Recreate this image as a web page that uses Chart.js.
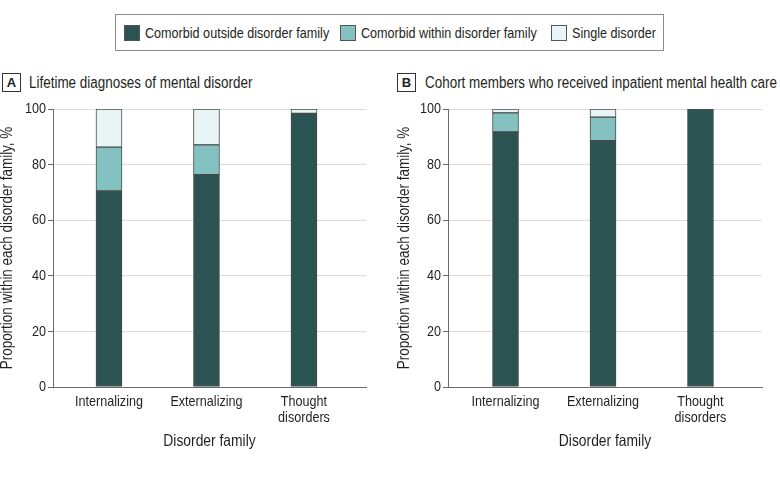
<!DOCTYPE html>
<html><head><meta charset="utf-8">
<script src="https://cdn.jsdelivr.net/npm/chart.js@4.4.1/dist/chart.umd.min.js"></script>
<style>
html,body{margin:0;padding:0;background:#fff;}
body{width:780px;height:501px;position:relative;overflow:hidden;font-family:"Liberation Sans",Arial,sans-serif;color:#231f20;}
#legend{position:absolute;left:115px;top:14px;width:547px;height:35px;border:1px solid #8c8c8c;}
.item{position:absolute;top:0;height:35px;display:flex;align-items:center;font-size:15px;white-space:nowrap;}
.sw{width:16px;height:16px;border:1px solid #555;box-sizing:border-box;margin-right:5px;flex:none;}
.nar{display:inline-block;transform:scaleX(0.84);transform-origin:0 50%;white-space:nowrap;}
.tag{position:absolute;top:73px;width:17px;height:17px;border:1px solid #333;font-weight:bold;font-size:13px;text-align:center;line-height:17px;}
.ptitle{position:absolute;top:73px;height:19px;line-height:19px;font-size:16px;white-space:nowrap;}
.wrap{position:absolute;top:95px;width:390px;height:365px;}
</style>
</head><body>
<div id="legend"></div>
<div class="tag" style="left:2px">A</div>
<div class="ptitle" style="left:29px"><span class="nar" id="titleA"></span></div>
<div class="tag" style="left:397px">B</div>
<div class="ptitle" style="left:425px"><span class="nar" id="titleB"></span></div>
<div class="wrap" style="left:0px"><canvas id="cA" width="390" height="365"></canvas></div>
<div class="wrap" style="left:390px"><canvas id="cB" width="390" height="365"></canvas></div>
<script>
const categories = ['Internalizing', 'Externalizing', ['Thought', 'disorders']];
const seriesNames = ['Comorbid outside disorder family', 'Comorbid within disorder family', 'Single disorder'];
const panelTitles = ['Lifetime diagnoses of mental disorder', 'Cohort members who received inpatient mental health care'];
const lifetimeOutside = [70.5, 76.4, 98.4];
const lifetimeWithin = [15.8, 10.7, 0];
const lifetimeSingle = [13.7, 12.9, 1.6];
const inpatientOutside = [91.8, 88.6, 100];
const inpatientWithin = [6.8, 8.5, 0];
const inpatientSingle = [1.4, 2.9, 0];
const yTicks = [0, 20, 40, 60, 80, 100];
const xTitle = 'Disorder family';
const yTitle = 'Proportion within each disorder family, %';

const colors = ['#2a5352', '#83c2c1', '#e9f4f6'];
const FONT = '"Liberation Sans",Arial,sans-serif';
const TXT = '#231f20';
const AX = '#6b6b6b';

// condensed text rendering (narrow typeface look) for canvas text
const SX = 0.84;
const origFill = CanvasRenderingContext2D.prototype.fillText;
CanvasRenderingContext2D.prototype.fillText = function(t, x, y, mw) {
  this.save();
  this.translate(x, y);
  this.scale(SX, 1);
  if (mw !== undefined) origFill.call(this, t, 0, 0, mw / SX); else origFill.call(this, t, 0, 0);
  this.restore();
};
const origMeasure = CanvasRenderingContext2D.prototype.measureText;
CanvasRenderingContext2D.prototype.measureText = function(t) {
  const m = origMeasure.call(this, t);
  return {width: m.width * SX, actualBoundingBoxAscent: m.actualBoundingBoxAscent, actualBoundingBoxDescent: m.actualBoundingBoxDescent,
          actualBoundingBoxLeft: m.actualBoundingBoxLeft * SX, actualBoundingBoxRight: m.actualBoundingBoxRight * SX};
};

// legend
const legendX = [8, 224, 435];
const lg = document.getElementById('legend');
seriesNames.forEach((n, i) => {
  const d = document.createElement('div');
  d.className = 'item';
  d.style.left = legendX[i] + 'px';
  d.innerHTML = '<span class="sw" style="background:' + colors[i] + '"></span><span class="nar"></span>';
  d.lastChild.textContent = n;
  lg.appendChild(d);
});
document.getElementById('titleA').textContent = panelTitles[0];
document.getElementById('titleB').textContent = panelTitles[1];

function makeChart(id, series, g) {
  new Chart(document.getElementById(id), {
    type: 'bar',
    data: {
      datasets: series.map((vals, k) => ({
        label: seriesNames[k],
        data: vals.map((v, i) => ({x: i, y: v})),
        backgroundColor: colors[k],
        borderColor: '#4a4a4a',
        borderWidth: 1,
        borderSkipped: false,
        barThickness: 26
      }))
    },
    options: {
      responsive: false,
      animation: false,
      layout: {padding: {top: 14, right: g.padRight, left: 0, bottom: 0}},
      plugins: {legend: {display: false}, tooltip: {enabled: false}},
      scales: {
        x: {
          type: 'linear', min: g.xMin, max: g.xMax, stacked: true, offset: false, bounds: 'data',
          afterDataLimits: s => { s.min = g.xMin; s.max = g.xMax; },
          afterBuildTicks: s => { s.min = g.xMin; s.max = g.xMax; s.ticks = categories.map((c, i) => ({value: i})); },
          afterFit: s => { s.height = 73; },
          ticks: {callback: v => categories[v], font: {family: FONT, size: 15, lineHeight: 1.05}, color: TXT, padding: 7, autoSkip: false, maxRotation: 0, includeBounds: false},
          grid: {display: false, drawTicks: false, offset: false},
          border: {display: true, color: AX, width: 1},
          title: {display: true, text: xTitle, font: {family: FONT, size: 16.5, lineHeight: 1.2}, color: TXT, padding: {top: 0, bottom: 9}}
        },
        y: {
          min: 0, max: 100, stacked: true,
          afterBuildTicks: s => { s.ticks = yTicks.map(v => ({value: v})); },
          afterFit: s => { s.width = g.axisW; },
          ticks: {font: {family: FONT, size: 15}, color: TXT, padding: 2},
          grid: {color: '#dcdcdc', tickColor: AX, tickLength: 5, lineWidth: 1},
          border: {display: true, color: AX, width: 1},
          title: {display: true, text: yTitle, font: {family: FONT, size: 16, lineHeight: 1}, color: TXT, padding: {top: g.titlePad, bottom: 0}}
        }
      }
    }
  });
}

makeChart('cA', [lifetimeOutside, lifetimeWithin, lifetimeSingle], {axisW: 53, titlePad: 0, padRight: 24, xMin: -0.574, xMax: 2.636});
makeChart('cB', [inpatientOutside, inpatientWithin, inpatientSingle], {axisW: 58, titlePad: 7, padRight: 18, xMin: -0.59, xMax: 2.631});
</script>
</body></html>
